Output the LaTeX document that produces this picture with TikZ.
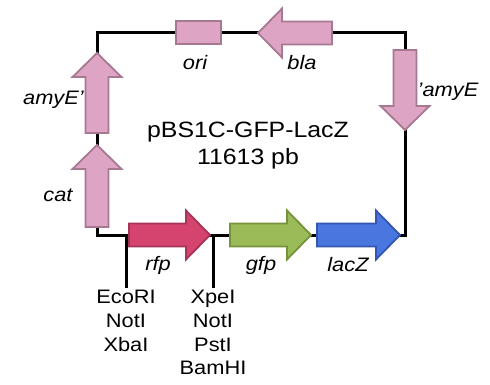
\documentclass[tikz,border=0pt]{standalone}
\usepackage{fontspec}
\setmainfont{Liberation Sans}[FakeStretch=1.12]
\usetikzlibrary{positioning}
\definecolor{pmpink}{HTML}{DDA4C4}
\definecolor{pmpinkline}{HTML}{A67891}
\definecolor{pmred}{HTML}{D5436F}
\definecolor{pmredline}{HTML}{A53558}
\definecolor{pmgreen}{HTML}{9BBB59}
\definecolor{pmgreenline}{HTML}{76923C}
\definecolor{pmblue}{HTML}{4A76E0}
\definecolor{pmblueline}{HTML}{3455B0}
\tikzset{
  backbone/.style={line width=3pt, color=black},
  gene/.style={line width=1.8pt, line join=miter},
  lbl/.style={font=\fontsize{19.5}{23}\selectfont\itshape, inner sep=0pt},
  site/.style={font=\fontsize{19.5}{23.7}\selectfont, align=center, inner sep=0pt},
  ttl/.style={font=\fontsize{22.2}{27}\selectfont, align=center, inner sep=0pt},
}
\begin{document}
\begin{tikzpicture}[x=1pt,y=-1pt]
  \useasboundingbox (0,0) rectangle (490,385);
  % backbone
  \coordinate (tl) at (97,33);
  \coordinate (tr) at (405,33);
  \coordinate (br) at (405,235);
  \coordinate (bl) at (97,235);
  \draw[backbone] (tl) -- (tr) -- (br) -- (bl) -- cycle;
  % cloning sites
  \coordinate (cut1) at (126,235);
  \coordinate (cut2) at (213,235);
  \node[site, anchor=north] (sites1) at (126,290) {EcoRI\\NotI\\XbaI};
  \node[site, anchor=north] (sites2) at (213,290) {XpeI\\NotI\\PstI\\BamHI};
  \draw[backbone, shorten >=2pt] (cut1) -- (sites1.north);
  \draw[backbone, shorten >=2pt] (cut2) -- (sites2.north);
  % genes
  \foreach \tx/\ty/\ang/\len/\fc in {332/33/180/74/pmpink, 405/50/-90/80/pmpink, 97/133/90/80/pmpink,
      97/227/90/82/pmpink, 129/235/0/81/pmred, 230/235/0/81/pmgreen, 317/235/0/83/pmblue}
    \draw[gene, fill=\fc, draw=\fc line, shift={(\tx,\ty)}, rotate=\ang]
      (0,-11.5) -- (\len-24,-11.5) -- (\len-24,-24.5) -- (\len,0) -- (\len-24,24.5) -- (\len-24,11.5) -- (0,11.5) -- cycle;
  \node[gene, draw=pmpinkline, fill=pmpink, minimum width=45pt, minimum height=23pt, inner sep=0pt] (ori) at (198.5,32.5) {};
  % labels
  \node[lbl] (orilbl) at (195,63) {ori};
  \node[lbl] (blalbl) at (302,63) {bla};
  \node[lbl] (amyElbl) at (448,92) {'amyE};
  \node[lbl, anchor=east] (amyEplbl) at (84,100) {amyE'};
  \node[lbl] (catlbl) at (58,195) {cat};
  \node[lbl] (rfplbl) at (158,265) {rfp};
  \node[lbl] (gfplbl) at (261,265) {gfp};
  \node[lbl] (lacZlbl) at (348,265) {lacZ};
  \node[ttl] (name) at (248,146) {pBS1C-GFP-LacZ\\11613 pb};
\end{tikzpicture}
\end{document}
